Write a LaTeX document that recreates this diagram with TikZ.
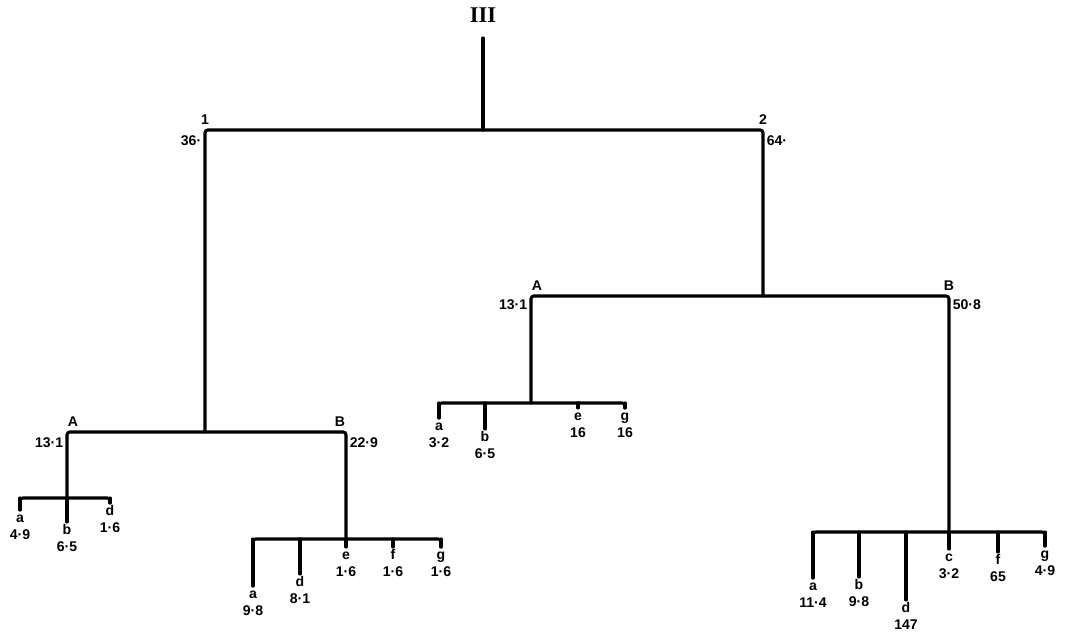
\documentclass[tikz,border=0pt]{standalone}
\usepackage{fontspec}
\setmainfont{Liberation Sans}
\newfontfamily\numfont{Liberation Serif}
\usetikzlibrary{positioning}
\tikzset{
	branch/.style ={line width=2.2pt, line cap=round, rounded corners=2pt},
	lab/.style    ={font=\bfseries\fontsize{10}{11}\selectfont, inner sep=0.5pt},
	leaf/.style   ={lab, text height=7.2pt, text depth=0pt},
	val/.style    ={lab},
	title/.style  ={font=\numfont\bfseries\fontsize{16}{17}\selectfont, inner sep=0pt},
}

\begin{document}
\begin{tikzpicture}[x=0.025cm, y=-0.025cm]
	\useasboundingbox (0,0) rectangle (1071,639);
	% trunk and first split
	\node[title] (III) at (483,15) {III};
	\coordinate (top) at (483,38);
	\coordinate (r) at (483,130);
	\coordinate (n1) at (205,130);
	\coordinate (n2) at (763,130);
	\coordinate (n1j) at (205,432);
	\coordinate (n2j) at (763,296);
	\draw[branch] (top) -- (r);
	\draw[branch] (n1j) -- (n1) -- (n2) -- (n2j);
	\node[lab, above=3pt of n1] (n1name) {1};
	\node[lab, below left=3pt and 2pt of n1] (n1val) {36·};
	\node[lab, above=3pt of n2] (n2name) {2};
	\node[lab, below right=3pt and 2pt of n2] (n2val) {64·};
	% second split, left
	\coordinate (A1) at (67,432);
	\coordinate (B1) at (346,432);
	\coordinate (A1j) at (67,498);
	\coordinate (B1j) at (346,539);
	\draw[branch] (A1j) -- (A1) -- (B1) -- (B1j);
	\node[lab, above right=3pt and 0pt of A1] (A1name) {A};
	\node[lab, below left=3pt and 2pt of A1] (A1val) {13·1};
	\node[lab, above left=3pt and 0pt of B1] (B1name) {B};
	\node[lab, below right=3pt and 2pt of B1] (B1val) {22·9};
	% second split, right
	\coordinate (A2) at (531,296);
	\coordinate (B2) at (949,296);
	\coordinate (A2j) at (531,403);
	\coordinate (B2j) at (949,532);
	\draw[branch] (A2j) -- (A2) -- (B2) -- (B2j);
	\node[lab, above right=3pt and 0pt of A2] (A2name) {A};
	\node[lab, below left=2pt and 2pt of A2] (A2val) {13·1};
	\node[lab, above=3pt of B2] (B2name) {B};
	\node[lab, below right=2pt and 2pt of B2] (B2val) {50·8};
	% leaves
	\foreach \nm/\x/\e/\ltr/\vl in {a/20/510/a/4·9, b/67/522/b/6·5, d/110/503/d/1·6} {
		\coordinate (A1\nm) at (\x,\e);
		\draw[branch] (A1\nm |- A1j) -- (A1\nm);
		\node[leaf, below=1pt of A1\nm] (A1\nm L) {\ltr};
		\node[val, below=4pt of A1\nm L] (A1\nm V) {\vl};
	}
	\draw[branch] (A1a) -- (A1a |- A1j) -- (A1d |- A1j) -- (A1d);
	\foreach \nm/\x/\e/\ltr/\vl in {a/253/586/a/9·8, d/300/574/d/8·1, e/346/547/e/1·6, f/393/547/f/1·6, g/441/547/g/1·6} {
		\coordinate (B1\nm) at (\x,\e);
		\draw[branch] (B1\nm |- B1j) -- (B1\nm);
		\node[leaf, below=1pt of B1\nm] (B1\nm L) {\ltr};
		\node[val, below=4pt of B1\nm L] (B1\nm V) {\vl};
	}
	\draw[branch] (B1a) -- (B1a |- B1j) -- (B1g |- B1j) -- (B1g);
	\foreach \nm/\x/\e/\ltr/\vl in {a/439/418/a/3·2, b/485/429/b/6·5, e/578/408/e/16, g/625/408/g/16} {
		\coordinate (A2\nm) at (\x,\e);
		\draw[branch] (A2\nm |- A2j) -- (A2\nm);
		\node[leaf, below=1pt of A2\nm] (A2\nm L) {\ltr};
		\node[val, below=4pt of A2\nm L] (A2\nm V) {\vl};
	}
	\draw[branch] (A2a) -- (A2a |- A2j) -- (A2g |- A2j) -- (A2g);
	\foreach \nm/\x/\e/\ltr/\vl in {a/813/578/a/11·4, b/859/577/b/9·8, d/906/600/d/147, c/949/549/c/3·2, f/998/552/f/65, g/1045/546/g/4·9} {
		\coordinate (B2\nm) at (\x,\e);
		\draw[branch] (B2\nm |- B2j) -- (B2\nm);
		\node[leaf, below=1pt of B2\nm] (B2\nm L) {\ltr};
		\node[val, below=4pt of B2\nm L] (B2\nm V) {\vl};
	}
	\draw[branch] (B2a) -- (B2a |- B2j) -- (B2g |- B2j) -- (B2g);
\end{tikzpicture}
\end{document}
